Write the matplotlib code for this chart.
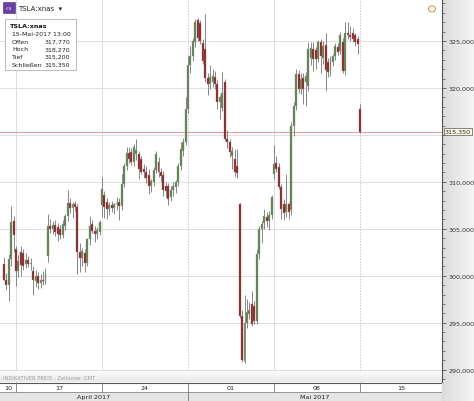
import numpy as np
import matplotlib.pyplot as plt
from matplotlib.patches import Rectangle, Circle

W, H = 474, 402

# hourly TSLA:xnas candles, 13 Apr - 15 May 2017 (bar index 0 = first bar of Mon 17 Apr)
first_bar = -5
opens = [
    301.2, 299.6, 299.0, 301.8, 305.8, 302.8, 300.5, 302.5, 302.4, 301.2,
    301.7, 301.2, 300.5, 299.4, 300.0, 299.2, 299.6, 299.4, 302.1, 305.3,
    305.0, 305.4, 305.2, 305.0, 304.3, 305.3, 306.4, 307.8, 307.2, 307.6,
    307.3, 302.5, 301.9, 302.4, 301.4, 303.9, 305.5, 304.8, 304.4, 304.7,
    307.5, 308.6, 307.9, 307.1, 307.5, 307.2, 307.6, 307.9, 307.4, 309.8,
    311.7, 313.1, 313.2, 312.1, 313.0, 313.0, 312.4, 311.4, 311.0, 310.7,
    309.6, 310.0, 311.3, 312.1, 311.0, 310.7, 309.6, 309.6, 308.4, 309.1,
    309.4, 310.0, 311.7, 313.3, 314.2, 317.8, 322.4, 323.4, 324.9, 327.2,
    326.9, 324.8, 324.1, 321.1, 320.4, 320.6, 321.2, 320.4, 318.5, 317.9,
    320.6, 314.6, 314.2, 312.8, 312.4, 311.7, 307.6, 295.7, 290.9, 295.0,
    295.9, 297.0, 296.8, 295.2, 302.3, 305.0, 305.6, 306.3, 305.8, 306.5,
    310.8, 312.0, 311.6, 309.4, 307.6, 306.8, 307.6, 307.0, 316.0, 318.1,
    321.5, 319.9, 321.1, 320.6, 320.2, 323.2, 324.1, 324.0, 323.1, 324.9,
    323.2, 324.6, 322.8, 321.8, 322.8, 323.4, 324.4, 323.9, 324.9, 321.8,
    325.9, 325.6, 325.9, 325.6, 325.2, 317.77,
]
highs = [
    302.0, 300.3, 302.3, 307.4, 306.4, 303.2, 302.2, 303.2, 302.8, 302.4,
    302.1, 301.9, 301.0, 300.6, 300.4, 300.2, 300.5, 300.8, 306.6, 306.0,
    305.8, 305.9, 305.6, 305.4, 305.9, 306.6, 309.1, 308.3, 307.9, 308.0,
    307.6, 303.5, 303.0, 302.9, 304.0, 306.4, 305.9, 305.3, 305.2, 305.9,
    310.5, 309.0, 308.3, 307.9, 308.0, 307.8, 308.4, 308.3, 310.8, 312.0,
    313.7, 313.7, 313.6, 314.0, 314.6, 313.3, 312.8, 311.9, 311.7, 311.4,
    310.3, 311.6, 313.3, 312.6, 311.5, 311.2, 310.0, 309.9, 309.6, 310.0,
    310.2, 312.0, 314.2, 314.7, 319.0, 323.4, 324.5, 325.3, 327.3, 327.5,
    327.2, 325.2, 327.9, 321.6, 322.4, 322.0, 321.8, 320.8, 319.3, 321.7,
    321.0, 315.5, 314.6, 313.7, 313.5, 313.5, 307.8, 296.3, 297.9, 297.5,
    297.2, 298.4, 297.3, 302.8, 305.3, 305.8, 307.1, 306.8, 306.9, 308.6,
    313.9, 312.8, 312.0, 309.8, 308.2, 310.8, 307.9, 316.4, 318.5, 322.0,
    321.9, 321.6, 321.6, 321.7, 324.9, 324.9, 324.9, 324.4, 325.1, 325.2,
    325.0, 325.9, 323.2, 323.4, 323.6, 324.8, 324.8, 326.0, 325.3, 327.0,
    327.0, 326.6, 326.4, 325.9, 325.5, 318.27,
]
lows = [
    299.5, 298.5, 297.3, 301.0, 302.5, 298.9, 299.9, 300.0, 300.6, 300.8,
    300.9, 300.6, 297.9, 298.8, 298.6, 298.7, 299.0, 299.1, 301.5, 304.6,
    304.4, 304.2, 303.7, 303.9, 304.0, 304.9, 305.8, 306.7, 306.2, 306.9,
    300.2, 300.4, 301.0, 300.4, 301.0, 303.3, 304.5, 303.6, 303.9, 304.3,
    306.3, 306.2, 306.0, 306.5, 306.8, 306.6, 307.0, 305.9, 307.0, 309.4,
    311.3, 312.0, 311.8, 311.7, 312.3, 310.3, 310.8, 310.4, 309.9, 308.7,
    308.9, 309.6, 310.9, 310.5, 310.0, 308.5, 308.4, 307.5, 308.0, 308.5,
    308.8, 309.6, 311.3, 312.8, 313.9, 317.3, 321.6, 322.9, 324.4, 325.0,
    324.7, 322.6, 320.6, 319.2, 319.9, 320.1, 319.9, 317.8, 316.7, 317.5,
    314.3, 313.6, 312.6, 311.4, 310.5, 310.4, 295.5, 290.8, 290.7, 294.4,
    295.4, 294.7, 294.9, 294.9, 301.8, 303.5, 305.0, 305.2, 304.9, 306.0,
    310.3, 311.0, 309.2, 306.0, 305.9, 306.3, 306.0, 306.5, 314.9, 317.6,
    319.5, 319.4, 318.3, 318.1, 319.7, 322.4, 321.8, 322.0, 322.8, 321.6,
    322.5, 319.7, 321.2, 321.3, 322.3, 323.0, 323.5, 323.6, 321.6, 321.4,
    325.2, 325.0, 324.9, 324.5, 323.6, 315.20,
]
closes = [
    299.6, 299.0, 301.8, 305.7, 304.3, 300.5, 301.6, 301.1, 301.0, 301.7,
    301.2, 301.4, 299.6, 300.0, 299.2, 299.6, 299.4, 300.3, 305.3, 305.0,
    305.4, 304.7, 304.4, 304.3, 305.5, 306.4, 307.8, 307.2, 307.6, 307.3,
    302.5, 301.9, 302.6, 301.4, 303.9, 305.3, 304.8, 304.4, 304.9, 305.7,
    309.2, 307.3, 307.1, 307.5, 307.2, 307.6, 307.8, 307.4, 309.8, 311.7,
    313.1, 312.4, 312.1, 313.7, 313.4, 311.4, 311.0, 311.0, 310.4, 309.6,
    310.1, 311.3, 313.0, 311.0, 310.6, 309.1, 309.0, 308.2, 309.1, 309.6,
    310.0, 311.7, 313.5, 314.2, 317.8, 322.4, 323.4, 325.0, 327.0, 325.3,
    325.0, 322.9, 321.1, 320.4, 321.2, 321.3, 320.4, 318.5, 319.0, 319.5,
    314.6, 314.2, 313.2, 313.3, 311.0, 310.9, 295.7, 291.0, 295.0, 296.1,
    296.4, 294.9, 295.2, 302.3, 305.0, 305.5, 306.4, 305.8, 306.5, 308.4,
    311.9, 311.4, 309.4, 307.1, 306.7, 307.6, 306.8, 316.0, 318.1, 321.5,
    319.9, 321.0, 319.9, 321.3, 324.1, 324.3, 323.1, 323.1, 324.9, 323.4,
    324.5, 321.9, 321.7, 323.1, 323.4, 324.5, 323.8, 325.6, 321.8, 325.9,
    325.6, 325.4, 325.2, 324.9, 324.7, 315.35,
]

week_starts = [0, 35, 70, 105, 140]
week_labels = ['10', '17', '24', '01', '08', '15']
month_start = 70
month_labels = ['April 2017', 'Mai 2017']
y_ticks = [290, 295, 300, 305, 310, 315, 320, 325]

info_title = 'TSLA:xnas'
info_time = '15-Mai-2017 13:00'
info_labels = ['Offen', 'Hoch', 'Tief', 'Schließen']
info_values = [317.770, 318.270, 315.200, 315.350]
last_price = 315.350


def de_num(v):
    return f'{v:.3f}'.replace('.', ',')


def fx(px):
    return px / W


def fy(py):
    return 1 - py / H


plt.rcParams['font.family'] = 'DejaVu Sans'
fig = plt.figure(figsize=(W / 100, H / 100), dpi=100)
fig.patch.set_facecolor('white')

# grey strip behind the price scale
bg = fig.add_axes([fx(442), 0, 1 - fx(442), 1], zorder=-1)
bg.imshow(np.linspace(0.86, 0.96, 50)[None, :], cmap='gray', vmin=0, vmax=1,
          aspect='auto', extent=(0, 1, 0, 1))
bg.axis('off')

# pixel -> data mapping of the reference (bar spacing 2.457 px, 9.39 px per dollar)
PLOT_R, PLOT_B = 442, 383
bar_px, idx0_px = 2.457, 16
xmin, xmax = (0 - idx0_px) / bar_px, (PLOT_R - idx0_px) / bar_px
ytop = 325 + 42 / 9.39
ybot = 325 - (PLOT_B - 42) / 9.39

ax = fig.add_axes([0, fy(PLOT_B), fx(PLOT_R), PLOT_B / H])
ax.set_xlim(xmin, xmax)
ax.set_ylim(ybot, ytop)

# grid
for v in y_ticks:
    ax.axhline(v, color='#dedede', lw=0.7, zorder=1)
for ws in week_starts:
    dotted = ws in (month_start, week_starts[-1])
    ax.axvline(ws, color='#c8c8c8' if dotted else '#dcdcdc', lw=0.7,
               ls=(0, (1.5, 1.5)) if dotted else '-', zorder=1)

ax.axhline(last_price, color='#e79a9a', lw=0.7, zorder=2)

# candles
x = np.arange(first_bar, first_bar + len(closes))
o, h, l, c = (np.array(a) for a in (opens, highs, lows, closes))
up = c >= o
ax.vlines(x, l, h, color='#737373', lw=0.6, zorder=3)
ax.bar(x[up], (c - o)[up], bottom=o[up], width=0.8, color='#557f47',
       edgecolor='#9aa597', lw=0.3, zorder=4)
ax.bar(x[~up], (c - o)[~up], bottom=o[~up], width=0.8, color='#8a1c1c',
       edgecolor='#a88080', lw=0.3, zorder=4)

# price scale on the right (the 315 label sits under the last-price tag)
ax.yaxis.tick_right()
ax.set_yticks(y_ticks)
ax.set_yticklabels(['' if abs(v - last_price) < 2 else de_num(v) for v in y_ticks])
ax.set_yticks(np.arange(289, 330, 1), minor=True)
ax.tick_params(axis='y', which='major', direction='out', length=3, width=0.6,
               color='#555555', labelsize=4.6, labelcolor='#333333', pad=1.5)
ax.tick_params(axis='y', which='minor', direction='out', length=2, width=0.5,
               color='#555555')
ax.set_xticks([])
for side in ('top', 'left', 'bottom'):
    ax.spines[side].set_visible(False)
ax.spines['right'].set_color('#555555')
ax.spines['right'].set_linewidth(0.8)

ax.text(1.006, last_price, de_num(last_price), transform=ax.get_yaxis_transform(),
        va='center', ha='left', fontsize=4.6, color='#222222', zorder=6,
        bbox=dict(boxstyle='square,pad=0.18', fc='#fffbe3', ec='#555555', lw=0.5),
        clip_on=False)

# bottom shaded band with note
ax.imshow(np.linspace(0.98, 0.91, 20)[:, None], cmap='gray', vmin=0, vmax=1,
          aspect='auto', extent=(xmin, xmax, ybot, ybot + 10 / 9.39), zorder=2)
ax.set_ylim(ybot, ytop)
ax.set_xlim(xmin, xmax)
fig.text(fx(3), fy(379), 'INDIKATIVER PREIS - Zeitzone: GMT', fontsize=3.8,
         color='#a0a0a0', va='center', ha='left')

# date axis rows
axd = fig.add_axes([0, 0, fx(PLOT_R), (H - PLOT_B) / H])
axd.set_xlim(xmin, xmax)
axd.set_ylim(H, PLOT_B)
axd.axis('off')
axd.axhspan(393, H, color='#e4e4e4', lw=0)
axd.axhspan(PLOT_B, 393, color='white', lw=0)
axd.axhline(PLOT_B + 0.5, color='#555555', lw=0.8)
axd.axhline(393, color='#8a8a8a', lw=0.6)
axd.axvline(xmax, color='#555555', lw=0.8)
axd.vlines(week_starts, PLOT_B, 393, color='#777777', lw=0.6)
axd.vlines([month_start], 393, H, color='#777777', lw=0.6)
cells = [xmin] + week_starts + [xmax]
for lab, a, b in zip(week_labels, cells[:-1], cells[1:]):
    axd.text((a + b) / 2, 388.3, lab, ha='center', va='center', fontsize=4.6,
             color='#222222')
for lab, a, b in zip(month_labels, [xmin, month_start], [month_start, xmax]):
    axd.text((a + b) / 2, 397.8, lab, ha='center', va='center', fontsize=4.6,
             color='#222222')

# header and info box
fig.add_artist(Rectangle((fx(3), fy(14)), fx(12), 11 / H, transform=fig.transFigure,
                         fc='#6a3fa3', ec='#4a2a80', lw=0.4, zorder=5))
fig.text(fx(9), fy(8.5), '€$', fontsize=3.2, color='white', ha='center',
         va='center', zorder=6)
fig.text(fx(18), fy(9), info_title + '  ▾', fontsize=5, color='#222222',
         va='center', ha='left', zorder=6)

fig.add_artist(Circle((fx(432), fy(10)), 3.5 / W, transform=fig.transFigure,
                      fc='white', ec='#e08a3a', lw=0.7, zorder=5))

fig.add_artist(Rectangle((fx(5), fy(71)), fx(71), 51 / H, transform=fig.transFigure,
                         fc='white', ec='#b0b0b0', lw=0.6, zorder=5))
fig.text(fx(10), fy(26), info_title, fontsize=4.6, fontweight='bold',
         color='#111111', va='center', ha='left', zorder=6)
fig.text(fx(12), fy(34), info_time, fontsize=4.5, color='#222222',
         va='center', ha='left', zorder=6)
for i, (lab, val) in enumerate(zip(info_labels, info_values)):
    py = 42 + 7.8 * i
    fig.text(fx(12), fy(py), lab, fontsize=4.5, color='#222222',
             va='center', ha='left', zorder=6)
    fig.text(fx(70.5), fy(py), de_num(val), fontsize=4.5, color='#222222',
             va='center', ha='right', zorder=6)

fig.savefig('out.png', dpi=100)
